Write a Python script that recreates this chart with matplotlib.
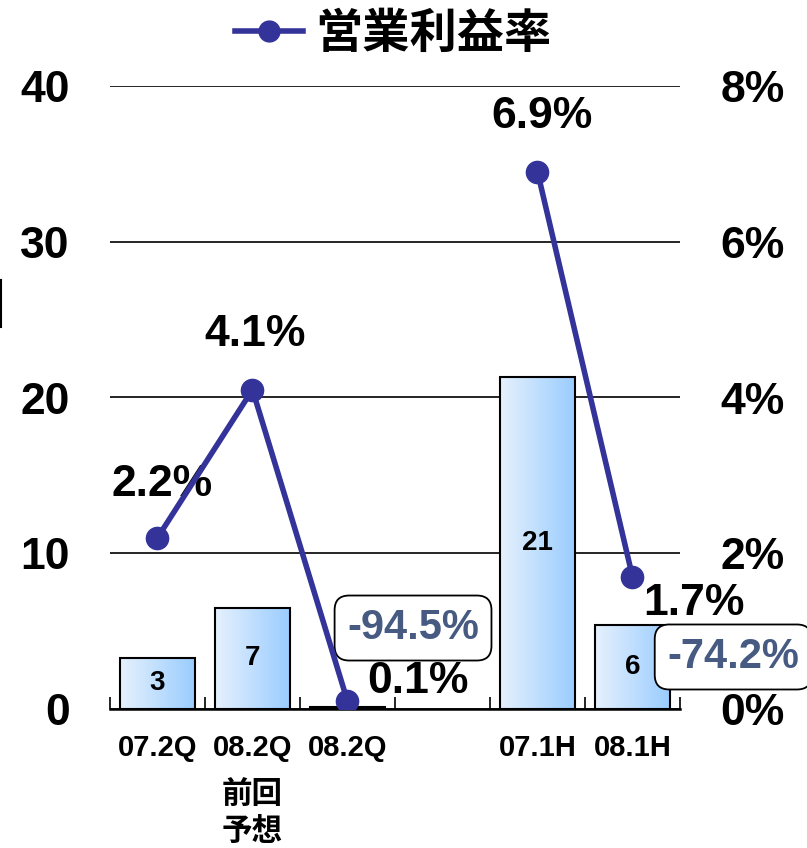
import matplotlib.pyplot as plt
import numpy as np
from matplotlib.lines import Line2D
from matplotlib.colors import LinearSegmentedColormap

# データ
categories = ['07.2Q', '08.2Q', '08.2Q', '', '07.1H', '08.1H']
sub_labels = ['', '前回\n予想', '', '', '', '']
profit = [3.3, 6.5, 0.15, np.nan, 21.3, 5.4]        # 営業利益
profit_labels = ['3', '7', '', '', '21', '6']
margin = [2.2, 4.1, 0.1, np.nan, 6.9, 1.7]          # 営業利益率 (%)
margin_labels = ['2.2%', '4.1%', '0.1%', '', '6.9%', '1.7%']
yoy_labels = {2: '-94.5%', 5: '-74.2%'}

plt.rcParams['font.family'] = ['Liberation Sans', 'Noto Sans CJK JP', 'DejaVu Sans']
plt.rcParams['font.weight'] = 'bold'

fig = plt.figure(figsize=(8.07, 8.48), dpi=100)
ax = fig.add_axes([0.1363, 0.1639, 0.7063, 0.7347])
ax2 = ax.twinx()

x = np.arange(len(categories))
cmap = LinearSegmentedColormap.from_list('bar', ['#e6f1fd', '#99ccff'])
grad = np.linspace(0, 1, 256).reshape(1, -1)

ax.grid(axis='y', color='black', linewidth=1.2)
ax.set_axisbelow(True)

bars = ax.bar(x, profit, width=0.79, facecolor='none', edgecolor='black', linewidth=1.5, zorder=3)
for b, v in zip(bars, profit):
    if np.isnan(v):
        continue
    im = ax.imshow(grad, cmap=cmap, aspect='auto', zorder=2,
                   extent=[b.get_x(), b.get_x() + b.get_width(), 0, b.get_height()])
    im.set_clip_path(b)
ax.set_xlim(-0.5, 5.5)
ax.set_ylim(0, 40)
ax.set_yticks([0, 10, 20, 30, 40])

for i, t in enumerate(profit_labels):
    if t:
        ax.text(x[i], profit[i] / 2, t, ha='center', va='center', fontsize=20, fontweight='bold')

for s in ['left', 'right', 'top']:
    ax.spines[s].set_visible(False)
    ax2.spines[s].set_visible(False)
ax.spines['bottom'].set_linewidth(1.8)
ax2.spines['bottom'].set_visible(False)

ax.set_xticks(np.arange(-0.5, 6.0, 1.0))
ax.set_xticklabels([])
ax.tick_params(axis='x', direction='in', length=9, width=1.2)
ax.tick_params(axis='y', length=0, pad=29, labelsize=32)

# カテゴリラベル
for i, c in enumerate(categories):
    ax.annotate(c, xy=(x[i], 0), xycoords=('data', 'axes fraction'), xytext=(0, -28),
                textcoords='offset points', ha='center', va='center', fontsize=21, fontweight='bold')
    if sub_labels[i]:
        ax.annotate(sub_labels[i], xy=(x[i], 0), xycoords=('data', 'axes fraction'), xytext=(0, -75),
                    textcoords='offset points', ha='center', va='center', fontsize=22, fontweight='bold',
                    family=['Noto Sans CJK JP'], linespacing=1.15)

# 営業利益率
ax2.set_ylim(0, 8)
ax2.set_yticks([0, 2, 4, 6, 8])
ax2.set_yticklabels(['0%', '2%', '4%', '6%', '8%'])
ax2.tick_params(axis='y', length=0, pad=29, labelsize=32)
ax2.plot(x, margin, color='#333399', linewidth=4, marker='o', markersize=16, zorder=5)

offsets = {0: (3.6, 38), 1: (2, 40), 2: (51, 14), 4: (3.6, 40), 5: (44, -19)}
for i, t in enumerate(margin_labels):
    if t:
        dx, dy = offsets[i]
        ax2.annotate(t, xy=(x[i], margin[i]), xytext=(dx, dy), textcoords='offset points',
                     ha='center', va='center', fontsize=32, fontweight='bold')

box = dict(boxstyle='round,pad=0.3,rounding_size=0.35', facecolor='white', edgecolor='black', linewidth=1.3)
ax.text(2.69, 5.2, yoy_labels[2], ha='center', va='center', fontsize=30, fontweight='bold',
        color='#465a82', bbox=box, zorder=6)
ax.text(6.06, 3.34, yoy_labels[5], ha='center', va='center', fontsize=30, fontweight='bold',
        color='#465a82', bbox=box, zorder=6, clip_on=False)

# 凡例
fig.legend(handles=[Line2D([0], [0], color='#333399', linewidth=4, marker='o', markersize=15)],
           labels=['営業利益率'], loc='center', bbox_to_anchor=(0.487, 0.960), frameon=False,
           handlelength=1.45, handletextpad=0.25,
           prop={'family': 'Noto Sans CJK JP', 'weight': 'bold', 'size': 34})

fig.add_artist(Line2D([0.001, 0.001], [1 - 280 / 848, 1 - 327 / 848], color='black', linewidth=1.5))

fig.savefig('out.png', dpi=100)
